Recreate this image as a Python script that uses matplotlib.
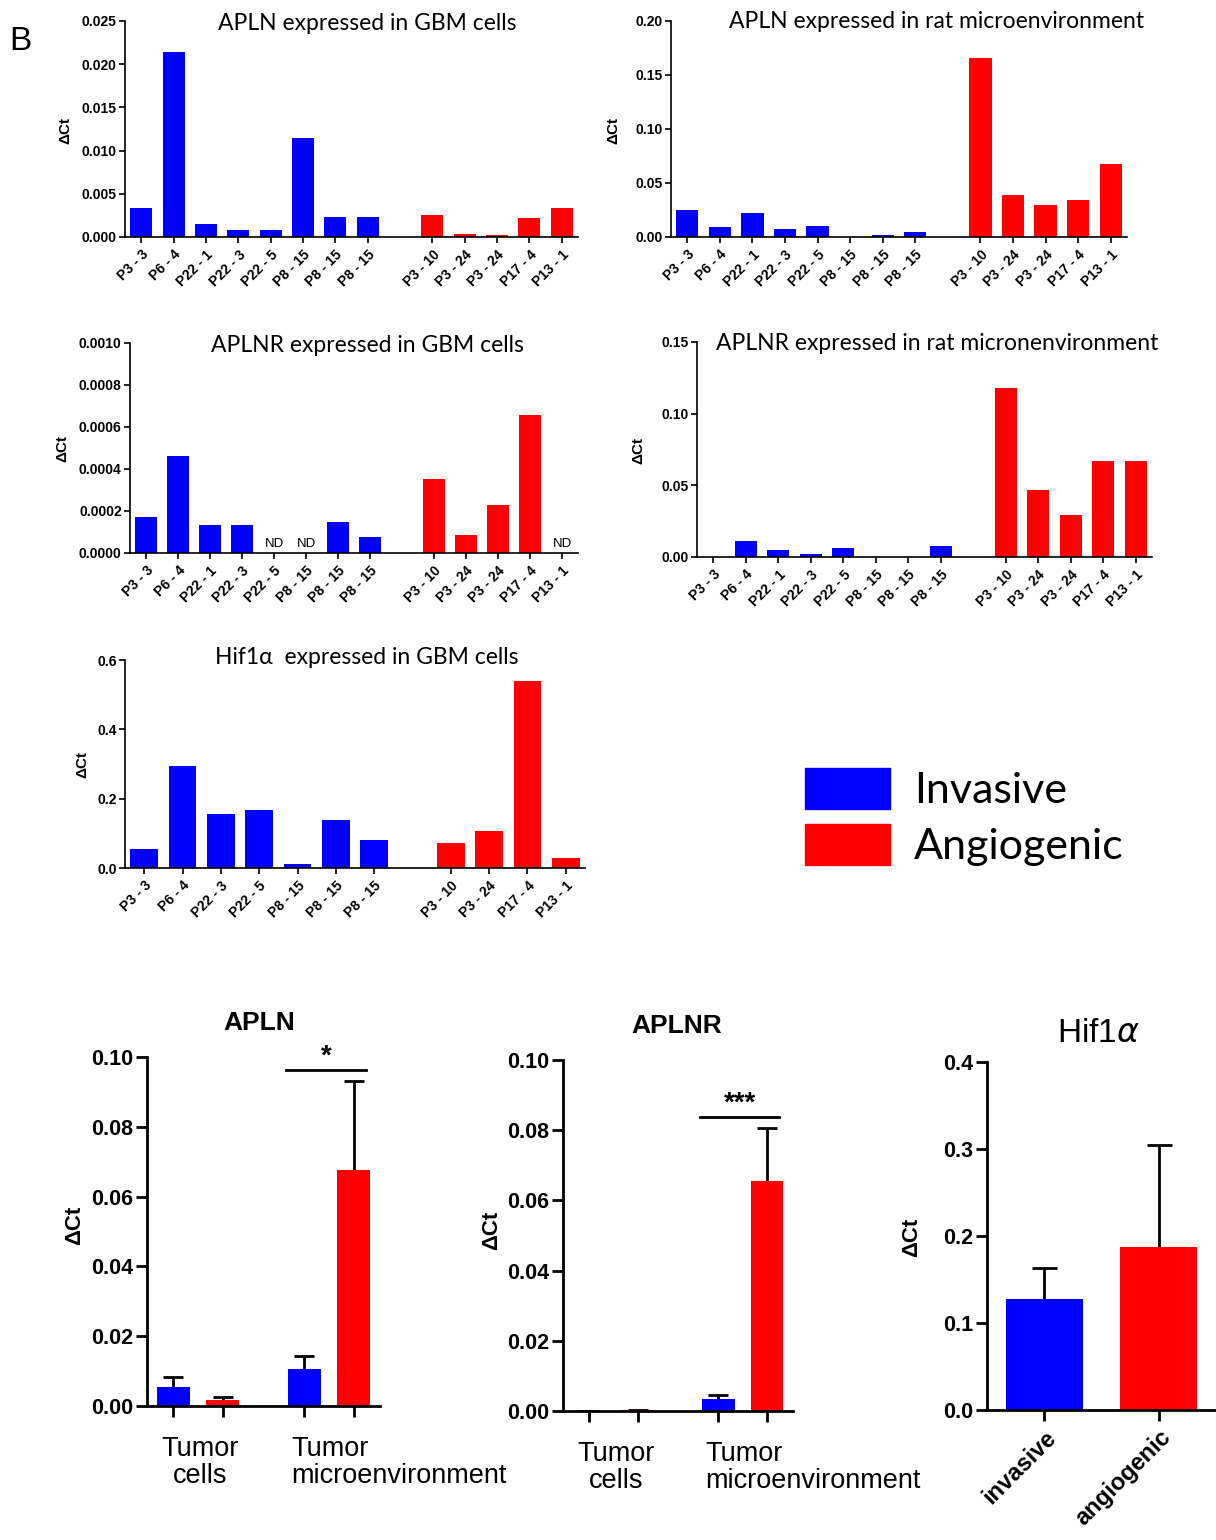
import numpy as np
import matplotlib
matplotlib.use("Agg")
import matplotlib.pyplot as plt
from matplotlib.patches import Patch
from matplotlib.ticker import FormatStrFormatter

plt.rcParams['font.family'] = ['Liberation Sans', 'DejaVu Sans']
TITLE_FONT = ['Lato', 'DejaVu Sans']

W, H = 1216, 1540
BLUE = "#0000ff"
RED = "#ff0000"

# sample names
inv_names = ["P3 - 3", "P6 - 4", "P22 - 1", "P22 - 3", "P22 - 5", "P8 - 15", "P8 - 15", "P8 - 15"]
ang_names = ["P3 - 10", "P3 - 24", "P3 - 24", "P17 - 4", "P13 - 1"]
hif_inv_names = ["P3 - 3", "P6 - 4", "P22 - 3", "P22 - 5", "P8 - 15", "P8 - 15", "P8 - 15"]
hif_ang_names = ["P3 - 10", "P3 - 24", "P17 - 4", "P13 - 1"]

# per-sample dCt values (None = not detected)
apln_gbm_inv = [0.0034, 0.0214, 0.0015, 0.0008, 0.0008, 0.0115, 0.0023, 0.0023]
apln_gbm_ang = [0.0025, 0.0004, 0.0002, 0.0022, 0.0034]
apln_rat_inv = [0.0253, 0.0095, 0.0225, 0.0075, 0.0105, 0.0, 0.0020, 0.0050]
apln_rat_ang = [0.166, 0.039, 0.030, 0.034, 0.068]
aplnr_gbm_inv = [0.000172, 0.000462, 0.000134, 0.000134, None, None, 0.000148, 0.000077]
aplnr_gbm_ang = [0.000352, 0.000087, 0.000229, 0.000657, None]
aplnr_rat_inv = [0.0, 0.0112, 0.0050, 0.0022, 0.0063, 0.0, 0.0, 0.0077]
aplnr_rat_ang = [0.118, 0.047, 0.029, 0.067, 0.067]
hif_gbm_inv = [0.054, 0.293, 0.155, 0.166, 0.011, 0.138, 0.080]
hif_gbm_ang = [0.072, 0.106, 0.538, 0.028]

# summary panels (mean, upper error)
group_names = ["Tumor\ncells", "Tumor\nmicroenvironment"]
apln_inv_mean = [0.0055, 0.0105]
apln_inv_err = [0.0027, 0.0038]
apln_ang_mean = [0.0018, 0.0675]
apln_ang_err = [0.0007, 0.0255]
aplnr_inv_mean = [0.0001, 0.0033]
aplnr_inv_err = [0.0, 0.0012]
aplnr_ang_mean = [0.0002, 0.0655]
aplnr_ang_err = [0.0001, 0.0150]
hif_names = ["invasive", "angiogenic"]
hif_mean = [0.128, 0.187]
hif_err = [0.035, 0.118]

fig = plt.figure(figsize=(W / 100, H / 100), dpi=100)


def px_axes(l, t, r, b):
    return fig.add_axes([l / W, 1 - b / H, (r - l) / W, (b - t) / H])


def ftext(x, y, s, **kw):
    return fig.text(x / W, 1 - y / H, s, **kw)


def style(ax, lw, tick_len):
    for s in ["top", "right"]:
        ax.spines[s].set_visible(False)
    for s in ["left", "bottom"]:
        ax.spines[s].set_linewidth(lw)
    ax.tick_params(width=lw, length=tick_len, direction="out")


def sample_panel(rect, inv, ang, names_i, names_a, ymax, step, fmt, title, txy, lxy, width=0.68):
    ax = px_axes(*rect)
    xi = np.arange(len(inv))
    xa = len(inv) + 1 + np.arange(len(ang))
    vi = [0 if v is None else v for v in inv]
    va = [0 if v is None else v for v in ang]
    ax.bar(xi, vi, width=width, color=BLUE)
    ax.bar(xa, va, width=width, color=RED)
    for x, v in list(zip(xi, inv)) + list(zip(xa, ang)):
        if v is None:
            ax.text(x, ymax * 0.012, "ND", ha="center", va="bottom", fontsize=9.5)
    ax.set_xlim(-0.5, xa[-1] + 0.5)
    ax.set_ylim(0, ymax)
    ax.set_yticks(np.arange(0, ymax + step / 2, step))
    ax.yaxis.set_major_formatter(FormatStrFormatter(fmt))
    ax.set_xticks(np.concatenate([xi, xa]))
    ax.set_xticklabels(names_i + names_a, rotation=45, ha="right", rotation_mode="anchor",
                       fontsize=10, fontweight="bold")
    for lab in ax.get_yticklabels():
        lab.set_fontsize(10)
        lab.set_fontweight("bold")
    style(ax, 1.2, 4)
    ax.tick_params(axis="y", pad=2)
    ftext(txy[0], txy[1], title, ha="center", va="center", fontsize=16.5, family=TITLE_FONT)
    ftext(lxy[0], lxy[1], "ΔCt", ha="center", va="center", rotation=90, fontsize=11, fontweight="bold")
    return ax


sample_panel((125, 21, 578, 237), apln_gbm_inv, apln_gbm_ang, inv_names, ang_names,
             0.025, 0.005, "%.3f", "APLN expressed in GBM cells", (367, 24), (65, 130))
sample_panel((671, 21, 1127, 237), apln_rat_inv, apln_rat_ang, inv_names, ang_names,
             0.20, 0.05, "%.2f", "APLN expressed in rat microenvironment", (937, 21), (613, 130))
sample_panel((130, 343, 578, 553), aplnr_gbm_inv, aplnr_gbm_ang, inv_names, ang_names,
             0.0010, 0.0002, "%.4f", "APLNR expressed in GBM cells", (367, 346), (62, 448))
sample_panel((697, 342, 1152, 557), aplnr_rat_inv, aplnr_rat_ang, inv_names, ang_names,
             0.15, 0.05, "%.2f", "APLNR expressed in rat micronenvironment", (937, 343), (638, 450))
sample_panel((125, 660, 585, 868), hif_gbm_inv, hif_gbm_ang, hif_inv_names, hif_ang_names,
             0.6, 0.2, "%.1f", "Hif1α  expressed in GBM cells", (367, 657), (82, 765), width=0.73)

ftext(20, 42, "B", ha="center", va="center", fontsize=24)

# legend
fig.legend(handles=[Patch(color=BLUE, label="Invasive"), Patch(color=RED, label="Angiogenic")],
           loc="upper left", bbox_to_anchor=(805 / W, 1 - 768 / H), frameon=False,
           prop={"family": TITLE_FONT, "size": 31}, handlelength=1.98, handleheight=1.1,
           handletextpad=0.55, labelspacing=0.32, borderpad=0, borderaxespad=0)


def summary_panel(rect, inv_m, inv_e, ang_m, ang_e, title, txy, lxy, sig, sig_y):
    ax = px_axes(*rect)
    gx = np.array([0.0, 2.65])
    for x, m, e, c in [(gx, inv_m, inv_e, BLUE), (gx + 1, ang_m, ang_e, RED)]:
        ax.errorbar(x, m, yerr=e, fmt="none", ecolor="black", elinewidth=2, capsize=7,
                    capthick=2, zorder=1)
        ax.bar(x, m, width=0.67, color=c, zorder=2)
    ax.set_xlim(-0.53, gx[-1] + 1.53)
    ax.set_ylim(0, 0.10)
    ax.set_yticks(np.arange(0, 0.101, 0.02))
    ax.yaxis.set_major_formatter(FormatStrFormatter("%.2f"))
    ax.set_xticks(np.concatenate([gx, gx + 1]))
    ax.set_xticklabels([])
    for lab in ax.get_yticklabels():
        lab.set_fontsize(15.5)
        lab.set_fontweight("bold")
    style(ax, 2, 8)
    ax.tick_params(axis="y", pad=2)
    tr = ax.get_xaxis_transform()
    ax.text(0.55, -0.085, group_names[0], transform=tr, ha="center", va="top", fontsize=19.5,
            linespacing=1.05)
    ax.text(gx[1] - 0.27, -0.085, group_names[1], transform=tr, ha="left", va="top",
            fontsize=19.5, linespacing=1.05)
    ax.plot([gx[1] - 0.38, gx[1] + 1.25], [sig_y, sig_y], color="black", lw=2, clip_on=False)
    ax.text(gx[1] + 0.45, sig_y, sig, ha="center", va="bottom", fontsize=20, fontweight="bold")
    ftext(txy[0], txy[1], title, ha="center", va="center", fontsize=19, fontweight="bold")
    ftext(lxy[0], lxy[1], "ΔCt", ha="center", va="center", rotation=90, fontsize=16, fontweight="bold")


summary_panel((147, 1057, 380, 1406), apln_inv_mean, apln_inv_err, apln_ang_mean, apln_ang_err,
              "APLN", (259, 1023), (75, 1225), "*", 0.0963)
summary_panel((563, 1060, 793, 1411), aplnr_inv_mean, aplnr_inv_err, aplnr_ang_mean, aplnr_ang_err,
              "APLNR", (677, 1026), (492, 1230), "***", 0.0838)

# Hif1a summary
ax = px_axes(987, 1062, 1216, 1410)
hx = np.arange(len(hif_names))
ax.errorbar(hx, hif_mean, yerr=hif_err, fmt="none", ecolor="black", elinewidth=2, capsize=9,
            capthick=2, zorder=1)
ax.bar(hx, hif_mean, width=0.67, color=[BLUE, RED], zorder=2)
ax.set_xlim(-0.5, 1.5)
ax.set_ylim(0, 0.4)
ax.set_yticks(np.arange(0, 0.41, 0.1))
ax.yaxis.set_major_formatter(FormatStrFormatter("%.1f"))
ax.set_xticks(hx)
ax.set_xticklabels(hif_names, rotation=45, ha="right", rotation_mode="anchor",
                   fontsize=17, fontweight="bold")
for lab in ax.get_yticklabels():
    lab.set_fontsize(15.5)
    lab.set_fontweight("bold")
style(ax, 2, 8)
ax.tick_params(axis="y", pad=2)
ftext(1098, 1033, r"Hif1$\alpha$", ha="center", va="center", fontsize=24)
ftext(912, 1237, "ΔCt", ha="center", va="center", rotation=90, fontsize=16, fontweight="bold")

fig.savefig("out.png", dpi=100)
